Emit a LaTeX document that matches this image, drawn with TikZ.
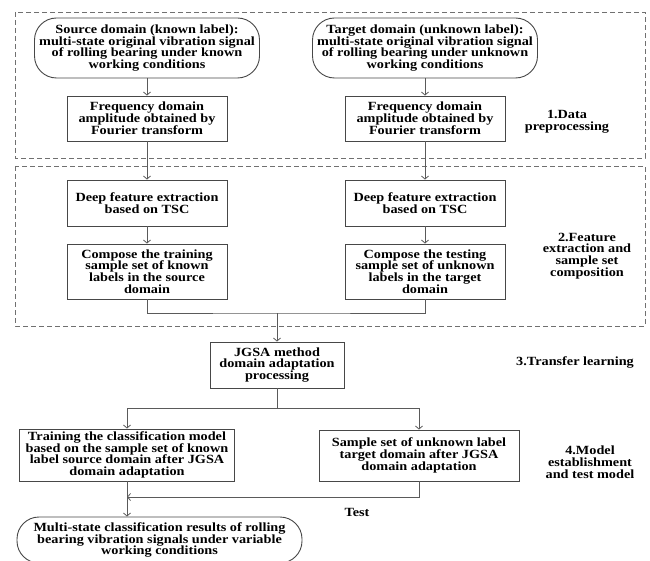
\documentclass[tikz,border=0pt]{standalone}
\usepackage{fontspec}
\setmainfont{Liberation Serif}[FakeStretch=1.14]
\usetikzlibrary{arrows.meta}
\definecolor{boxgray}{HTML}{474747}
\definecolor{linegray}{HTML}{5A5A5A}
\definecolor{framegray}{HTML}{707070}
\newcommand{\flowfont}{\fontsize{12.5}{11.8}\selectfont\bfseries\lineskiplimit=-100pt}

\begin{document}
\begin{tikzpicture}[x=1pt,y=-1pt,
    every node/.style={font=\flowfont,align=center,inner sep=0pt},
    stepbox/.style={draw=boxgray,line width=0.9pt,minimum width=160pt,minimum height=46pt},
    signal/.style={draw=boxgray,line width=0.9pt,rounded corners=22pt,minimum width=225pt,minimum height=60pt},
    frame/.style={draw=framegray,line width=0.8pt,dash pattern=on 5pt off 3pt},
    link/.style={draw=linegray,line width=0.8pt},
    flow/.style={link,-{Straight Barb[length=3pt,width=7pt]}}]
  \useasboundingbox (0,0) rectangle (650,561);
  \draw[frame] (15,12) rectangle (645,158);
  \draw[frame] (15,166) rectangle (645,326);

  \node[signal] (src) at (147,48) {Source domain (known label):\\multi-state original vibration signal\\of rolling bearing under known\\working conditions};
  \node[signal] (tgt) at (425,48) {Target domain (unknown label):\\multi-state original vibration signal\\of rolling bearing under unknown\\working conditions};
  \node[stepbox,minimum height=45pt] (fftS) at (147,118.5) {Frequency domain\\amplitude obtained by\\Fourier transform};
  \node[stepbox,minimum height=45pt] (fftT) at (425,118.5) {Frequency domain\\amplitude obtained by\\Fourier transform};
  \node[stepbox] (deepS) at (147,203) {Deep feature extraction\\based on TSC};
  \node[stepbox] (deepT) at (425,203) {Deep feature extraction\\based on TSC};
  \node[stepbox,minimum height=55pt] (compS) at (147,271.5) {Compose the training\\sample set of known\\labels in the source\\domain};
  \node[stepbox,minimum height=55pt] (compT) at (425,271.5) {Compose the testing\\sample set of unknown\\labels in the target\\domain};
  \node[stepbox,minimum width=134pt] (jgsa) at (277,365) {JGSA method\\domain adaptation\\processing};
  \node[stepbox,minimum width=215pt,minimum height=52pt] (train) at (127,455) {Training the classification model\\based on the sample set of known\\label source domain after JGSA\\domain adaptation};
  \node[stepbox,minimum width=200pt,minimum height=51pt] (samp) at (419,455.5) {Sample set of unknown label\\target domain after JGSA\\domain adaptation};
  \node[signal,minimum width=285pt,minimum height=46pt] (result) at (159.5,540) {Multi-state classification results of rolling\\bearing vibration signals under variable\\working conditions};

  \node (lab1) at (567,121.5) {1.Data\\preprocessing};
  \node (lab2) at (587,256) {2.Feature\\extraction and\\sample set\\composition};
  \node (lab3) at (575,362) {3.Transfer learning};
  \node (lab4) at (590,462) {4.Model\\establishment\\and test model};
  \node (test) at (357,512) {Test};

  \coordinate (merge) at (277,313);
  \coordinate (split) at (277,408);
  \coordinate (join) at (127,497);

  \draw[flow] (src) -- (fftS);
  \draw[flow] (tgt) -- (fftT);
  \draw[flow] (fftS) -- (deepS);
  \draw[flow] (fftT) -- (deepT);
  \draw[flow] (deepS) -- (compS);
  \draw[flow] (deepT) -- (compT);
  \draw[link] (compS.south) |- (merge) -| (compT.south);
  \draw[flow] (merge) -- (jgsa);
  \draw[link] (jgsa) -- (split);
  \draw[flow] (split) -| (train.north);
  \draw[flow] (split) -| (samp.north);
  \draw[flow] (samp.south) |- (join);
  \draw[flow] (train.south) -- (train.south |- result.north);
\end{tikzpicture}
\end{document}
